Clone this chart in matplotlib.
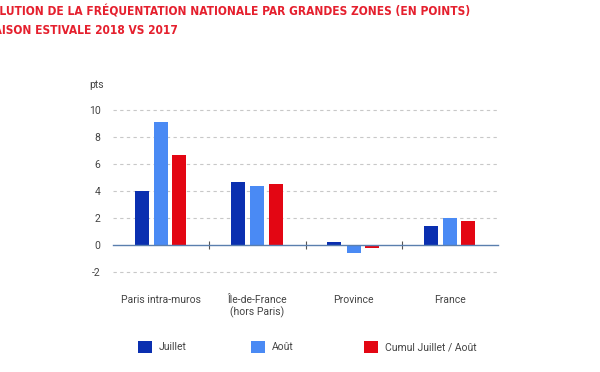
import matplotlib
matplotlib.use("Agg")
import matplotlib.pyplot as plt
import numpy as np

categories = ["Paris intra-muros", "Île-de-France\n(hors Paris)", "Province", "France"]
series_names = ["Juillet", "Août", "Cumul Juillet / Août"]
juillet = [4.0, 4.7, 0.2, 1.4]
aout = [9.1, 4.35, -0.6, 2.0]
cumul = [6.7, 4.55, -0.25, 1.8]
yticks = [-2, 0, 2, 4, 6, 8, 10]
colors = ["#0a2fb0", "#4a8af4", "#e30613"]
title1 = "ÉVOLUTION DE LA FRÉQUENTATION NATIONALE PAR GRANDES ZONES (EN POINTS)"
title2 = "SAISON ESTIVALE 2018 VS 2017"

plt.rcParams['font.family'] = ['Roboto', 'DejaVu Sans']

fig = plt.figure(figsize=(6, 3.72), dpi=100)
W, H = 600, 372
ax = fig.add_axes([113 / W, 1 - 274.7 / H, 385 / W, (274.7 - 107.3) / H])

x = np.arange(len(categories))
offsets = [-0.2, 0.0, 0.19]
bw = 0.145
containers = []
for vals, off, c, name in zip([juillet, aout, cumul], offsets, colors, series_names):
    containers.append(ax.bar(x + off, vals, width=bw, color=c, label=name, zorder=3))

ax.set_xlim(-0.5, 3.5)
ax.set_ylim(-2.2, 10.2)
ax.set_yticks(yticks)
ax.set_yticklabels([str(v) for v in yticks])
for v in yticks:
    if v != 0:
        ax.axhline(v, color="#c8c8c8", lw=0.8, ls=(0, (3, 3)), zorder=1)

for s in ["top", "right", "left"]:
    ax.spines[s].set_visible(False)
ax.spines["bottom"].set_position(("data", 0))
ax.spines["bottom"].set_color("#5a7fae")
ax.spines["bottom"].set_linewidth(1.0)
ax.spines["bottom"].set_zorder(4)

ax.set_xticks(x)
ax.set_xticklabels(categories)
ax.set_xticks([0.5, 1.5, 2.5], minor=True)
ax.tick_params(axis="x", which="major", length=0, pad=36, labelsize=7.5, labelcolor="#444444")
ax.tick_params(axis="x", which="minor", length=6, direction="inout", color="#555555", width=0.8)
ax.tick_params(axis="y", length=0, pad=9, labelsize=7.5, labelcolor="#444444")
for lbl in ax.get_xticklabels():
    lbl.set_verticalalignment("top")

fig.text(97 / W, 1 - 85 / H, "pts", ha="center", va="center", fontsize=7.5, color="#444444")

# Title (cut off at left as in reference)
fig.text(470 / W, 1 - 12 / H, title1, ha="right", va="center", fontsize=8.6,
         fontweight="bold", color="#e5202e", family=["DejaVu Sans"], fontstretch="condensed")
fig.text(178 / W, 1 - 31 / H, title2, ha="right", va="center", fontsize=8.6,
         fontweight="bold", color="#e5202e", family=["DejaVu Sans"], fontstretch="condensed")

# Legend: three separate entries, evenly spaced
leg_x = [138, 251, 364]
for cont, name, lx in zip(containers, series_names, leg_x):
    leg = fig.legend([cont], [name], loc="center left",
                     bbox_to_anchor=(lx / W, 1 - 347 / H), frameon=False,
                     handlelength=1.3, handleheight=1.3, handletextpad=0.7,
                     fontsize=7.5, borderaxespad=0, borderpad=0)
    for t in leg.get_texts():
        t.set_color("#444444")

fig.savefig("out.png", dpi=100)
